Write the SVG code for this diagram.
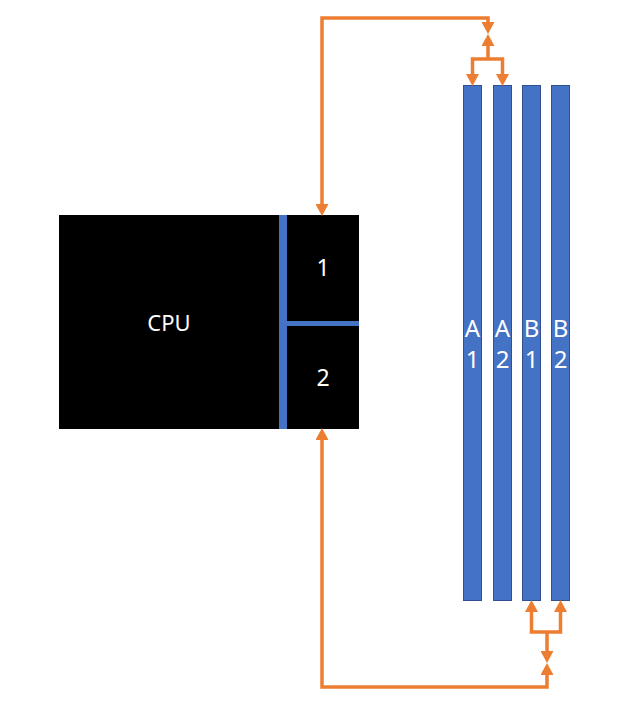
<svg xmlns="http://www.w3.org/2000/svg" width="640" height="706" viewBox="0 0 640 706">
<defs>
<style>
.wire{fill:none;stroke:#ED7D31;stroke-width:3.5;stroke-linejoin:miter}
.stick{fill:#4472C4;stroke:#2F528F;stroke-width:1}
.bus{fill:#4472C4}
.lbl{font-family:"Noto Sans","Liberation Sans",sans-serif;fill:#FFFFFF;text-anchor:middle}
</style>
<marker id="ah" markerUnits="userSpaceOnUse" markerWidth="12" markerHeight="13" refX="0" refY="6.5" orient="auto-start-reverse" viewBox="0 0 12 13">
<path d="M0,0 L12,6.5 L0,13 z" fill="#ED7D31"/>
</marker>
</defs>
<rect width="640" height="706" fill="#FFFFFF"/>
<g id="cpu">
<rect x="59" y="215" width="300" height="214" fill="#000000"/>
<rect class="bus" x="279" y="215" width="8" height="214"/>
<rect class="bus" x="287" y="321" width="72" height="5"/>
<text class="lbl" x="169" y="331" font-size="22">CPU</text>
</g>
<g id="channel1">
<text class="lbl" x="323" y="276" font-size="23">1</text>
</g>
<g id="channel2">
<text class="lbl" x="323" y="386" font-size="23">2</text>
</g>
<g id="dimmA1">
<rect class="stick" x="463.5" y="85.5" width="18" height="515"/>
<text class="lbl" x="472.5" y="337" font-size="24">A</text>
<text class="lbl" x="472.5" y="368" font-size="24">1</text>
</g>
<g id="dimmA2">
<rect class="stick" x="493.5" y="85.5" width="18" height="515"/>
<text class="lbl" x="502.5" y="337" font-size="24">A</text>
<text class="lbl" x="502.5" y="368" font-size="24">2</text>
</g>
<g id="dimmB1">
<rect class="stick" x="522.5" y="85.5" width="18" height="515"/>
<text class="lbl" x="531.5" y="337" font-size="24">B</text>
<text class="lbl" x="531.5" y="368" font-size="24">1</text>
</g>
<g id="dimmB2">
<rect class="stick" x="551.5" y="85.5" width="18" height="515"/>
<text class="lbl" x="560.5" y="337" font-size="24">B</text>
<text class="lbl" x="560.5" y="368" font-size="24">2</text>
</g>
<g id="connectors">
<path class="wire" d="M488,22 V18 H322 V204" marker-start="url(#ah)" marker-end="url(#ah)"/>
<path class="wire" d="M488,46 V59" marker-start="url(#ah)"/>
<path class="wire" d="M472.5,74 V59 H502.5 V74" marker-start="url(#ah)" marker-end="url(#ah)"/>
<path class="wire" d="M531.5,612 V632 H560.5 V612" marker-start="url(#ah)" marker-end="url(#ah)"/>
<path class="wire" d="M547,632 V651" marker-end="url(#ah)"/>
<path class="wire" d="M547,675 V687 H322 V440" marker-start="url(#ah)" marker-end="url(#ah)"/>
</g>
</svg>
